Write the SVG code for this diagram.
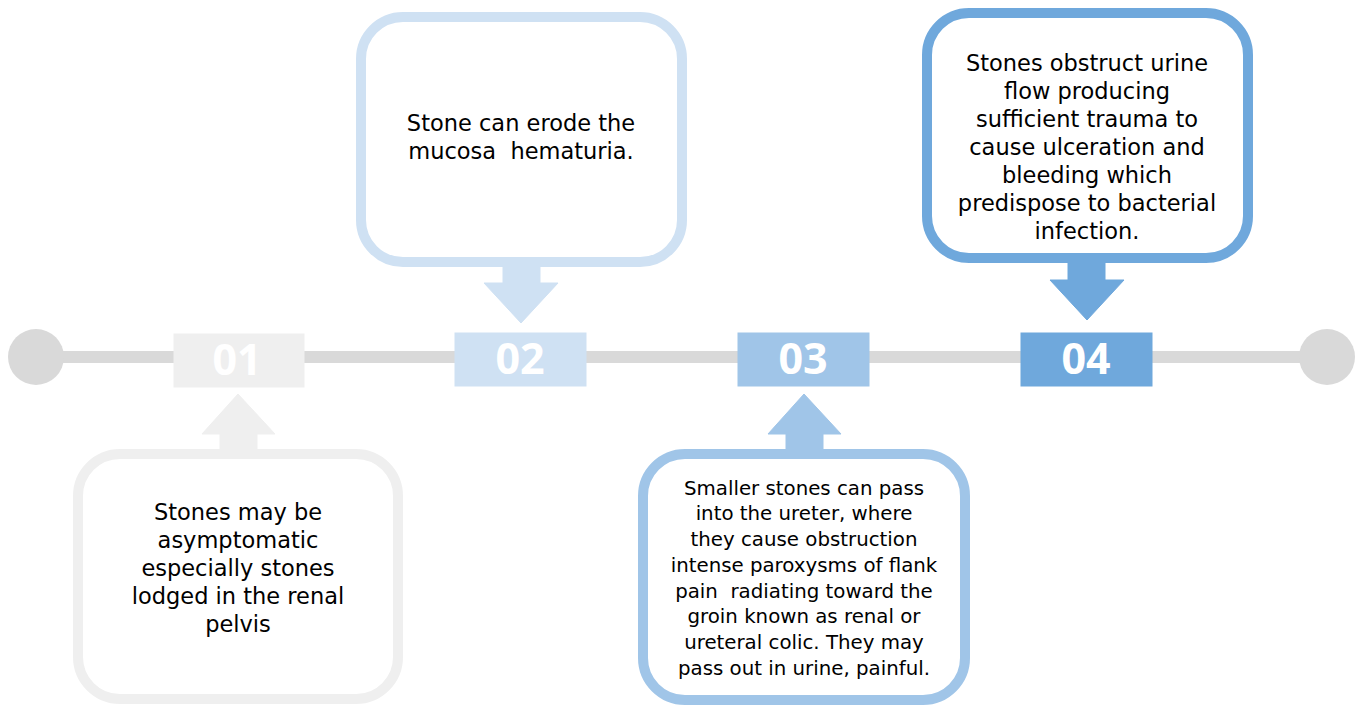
<svg xmlns="http://www.w3.org/2000/svg" width="1362" height="706" viewBox="0 0 1362 706">
<style>
.card{fill:#fff;stroke-width:10}
.t{font-family:"DejaVu Sans",sans-serif;font-size:22.5px;fill:#000;text-anchor:middle;white-space:pre}
.s{font-size:19.8px}
.num{font-family:"Open Sans",sans-serif;font-weight:bold;font-size:43px;fill:#fff;text-anchor:middle}
.c1{fill:#EFEFEF;stroke:#EFEFEF}
.c2{fill:#CFE1F3;stroke:#CFE1F3}
.c3{fill:#A0C5E8;stroke:#A0C5E8}
.c4{fill:#6FA8DC;stroke:#6FA8DC}
</style>
<rect width="1362" height="706" fill="#fff"/>
<g id="connectors">
<rect x="36" y="351" width="1291" height="12" fill="#D9D9D9"/>
<circle cx="36" cy="357" r="28" fill="#D9D9D9"/>
<circle cx="1327" cy="357" r="28" fill="#D9D9D9"/>
<polygon class="c1" stroke="none" points="220,452 220,434 202,434 238,394 275,434 257,434 257,452"/>
<polygon class="c2" stroke="none" points="503,262 503,283 484,283 521,323 558,283 540,283 540,262"/>
<polygon class="c3" stroke="none" points="786,452 786,434 768,434 804,394 841,434 823,434 823,452"/>
<polygon class="c4" stroke="none" points="1068,258 1068,280 1050,280 1087,320 1124,280 1105,280 1105,258"/>
</g>
<g id="label01"><rect class="c1" stroke="none" x="174" y="334" width="130" height="53"/><text class="num" x="237" y="375">01</text></g>
<g id="label02"><rect class="c2" stroke="none" x="455" y="333" width="131" height="53"/><text class="num" x="520" y="374">02</text></g>
<g id="label03"><rect class="c3" stroke="none" x="738" y="333" width="131" height="53"/><text class="num" x="803" y="374">03</text></g>
<g id="label04"><rect class="c4" stroke="none" x="1021" y="333" width="131" height="53"/><text class="num" x="1086" y="374">04</text></g>
<g id="card01">
<rect class="card" stroke="#EFEFEF" x="78" y="454" width="320" height="245" rx="42"/>
<text class="t"><tspan x="238" y="520">Stones may be</tspan><tspan x="238" y="548">asymptomatic</tspan><tspan x="238" y="576">especially stones</tspan><tspan x="238" y="604">lodged in the renal</tspan><tspan x="238" y="632">pelvis</tspan></text>
</g>
<g id="card02">
<rect class="card" stroke="#CFE1F3" x="361" y="17" width="321" height="245" rx="42"/>
<text class="t"><tspan x="521" y="131">Stone can erode the</tspan><tspan x="521" y="159">mucosa  hematuria.</tspan></text>
</g>
<g id="card03">
<rect class="card" stroke="#A0C5E8" x="643" y="454" width="322" height="246" rx="42"/>
<text class="t s"><tspan x="804" y="495">Smaller stones can pass</tspan><tspan x="804" y="520">into the ureter, where</tspan><tspan x="804" y="546">they cause obstruction</tspan><tspan x="804" y="572">intense paroxysms of flank</tspan><tspan x="804" y="598">pain  radiating toward the</tspan><tspan x="804" y="623">groin known as renal or</tspan><tspan x="804" y="649">ureteral colic. They may</tspan><tspan x="804" y="675">pass out in urine, painful.</tspan></text>
</g>
<g id="card04">
<rect class="card" stroke="#6FA8DC" x="927" y="13" width="321" height="245" rx="42"/>
<text class="t"><tspan x="1087" y="71">Stones obstruct urine</tspan><tspan x="1087" y="99">flow producing</tspan><tspan x="1087" y="127">sufficient trauma to</tspan><tspan x="1087" y="155">cause ulceration and</tspan><tspan x="1087" y="183">bleeding which</tspan><tspan x="1087" y="211">predispose to bacterial</tspan><tspan x="1087" y="239">infection.</tspan></text>
</g>
</svg>
